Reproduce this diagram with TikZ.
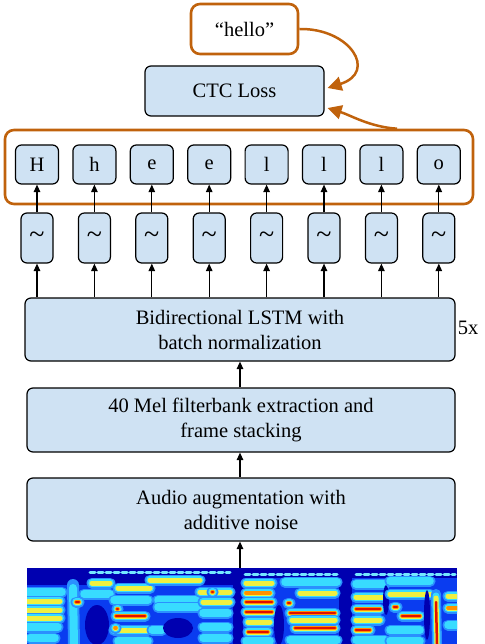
\documentclass[tikz,border=0pt]{standalone}
\usepackage{fontspec}
\setmainfont{Liberation Serif}
\usetikzlibrary{arrows.meta}
\definecolor{boxblue}{HTML}{CFE2F3}
\definecolor{orng}{HTML}{C0620C}
\definecolor{sdark}{HTML}{0000B0}
\definecolor{smid}{HTML}{0A3CF0}
\definecolor{slight}{HTML}{2A90FF}
\definecolor{scyan}{HTML}{38DCFF}
\definecolor{syel}{HTML}{F0F040}
\definecolor{sorg}{HTML}{FF9000}
\definecolor{sred}{HTML}{E01000}
\newcommand\specband[4]{%
  \draw[line width=11pt, slight] (#1,#3)--(#2,#3);
  \draw[line width=7.5pt, scyan] (#1,#3)--(#2,#3);
  \ifnum#4>1 \draw[line width=5pt, syel] (#1,#3)--(#2,#3);\fi
  \ifnum#4>2 \draw[line width=3.6pt, sorg] (#1,#3)--(#2,#3);\fi
  \ifnum#4>3 \draw[line width=2.2pt, sred] (#1,#3)--(#2,#3);\fi}
\begin{document}
\begin{tikzpicture}[x=1pt,y=-1pt,
  blk/.style={draw=black, line width=1.2pt, fill=boxblue, rounded corners=6pt,
    inner sep=0pt, align=center, font=\fontsize{20.5}{25}\selectfont},
  obox/.style={draw=orng, line width=2.6pt, rounded corners=9pt, inner sep=0pt},
  arr/.style={line width=1.2pt, -{Triangle[width=6.5pt,length=7.5pt]}},
  oarr/.style={draw=orng, line width=2.5pt, -{Triangle[width=14pt,length=14pt]}}]
\useasboundingbox (0,0) rectangle (484,644);

% top boxes
\node[obox, fill=white, minimum width=107pt, minimum height=50pt,
  font=\fontsize{20.5}{25}\selectfont] (hello) at (244.5,29) {“hello”};
\node[blk, minimum width=179pt, minimum height=50pt] (ctc) at (234.5,91) {CTC Loss};

% group of characters
\node[obox, minimum width=468pt, minimum height=74pt] (grp) at (239,167) {};

\foreach \c [count=\i from 0] in {H,h,e,e,l,l,l,o}{
  \pgfmathsetmacro\xx{37+57.4*\i}
  \node[blk, minimum width=43pt, minimum height=39pt] (c\i) at (\xx,164.5) {\c};
  \node[blk, minimum width=32pt, minimum height=50pt, font=\fontsize{28}{28}\selectfont] (t\i) at (\xx,238) {\raisebox{-2pt}{\char"7E}};
}

\node[blk, minimum width=430pt, minimum height=63pt] (lstm) at (240,329.5)
  {Bidirectional LSTM with\\batch normalization};
\node[font=\fontsize{20.5}{25}\selectfont, inner sep=0pt] (five) at (468,328) {5x};
\node[blk, minimum width=428pt, minimum height=64pt] (mel) at (241,420)
  {40 Mel filterbank extraction and\\frame stacking};
\node[blk, minimum width=428pt, minimum height=63pt] (aug) at (241,509.5)
  {Audio augmentation with\\additive noise};
\node[minimum width=430pt, minimum height=76pt, inner sep=0pt] (spec) at (242,606) {};

% arrows
\foreach \i in {0,...,7}{
  \draw[arr] (t\i.north) -- (c\i.south);
  \draw[arr] (t\i.south |- lstm.north) -- (t\i.south);
}
\draw[arr] (mel.north -| 240,0) -- (lstm.south -| 240,0);
\draw[arr] (aug.north -| 240,0) -- (mel.south -| 240,0);
\draw[arr] (spec.north -| 240,0) -- (aug.south -| 240,0);

\draw[oarr] (hello.east) .. controls (350,28) and (378,72) .. ([xshift=3pt,yshift=3pt]ctc.east);
\draw[oarr] ([xshift=158pt]grp.north) .. controls (370,127) and (350,115) .. ([xshift=3pt,yshift=-17pt]ctc.east);

% spectrogram
\begin{scope}[line cap=round]
\clip (27,568) rectangle (457,644);
\fill[sdark] (27,568) rectangle (457,644);
\fill[smid] (27,585) rectangle (233,644);
\fill[smid] (243,578) rectangle (339,644);
\fill[smid] (352,578) rectangle (457,644);
\draw[line width=3pt, scyan!70!white, dash pattern=on 5pt off 3pt] (90,572)--(230,572);
\draw[line width=3pt, scyan!70!white, dash pattern=on 5pt off 3pt] (245,574)--(337,574);
\draw[line width=3pt, scyan!70!white, dash pattern=on 5pt off 3pt] (356,574)--(455,574);
% segment A (x 27-63)
\specband{27}{62}{592}{1}
\specband{27}{60}{601}{2}
\specband{27}{60}{610}{2}
\specband{27}{60}{618}{2}
\specband{27}{58}{627}{1}
\specband{30}{55}{638}{1}
% segment B (x 63-113)
\draw[line width=12pt, slight] (73,585)--(74,644);
\draw[line width=8pt, scyan] (73,588)--(74,644);
\specband{76}{79}{602}{4}
\specband{92}{110}{583}{2}
\specband{84}{110}{594}{1}
\fill[sdark] (97,625) ellipse [x radius=12pt, y radius=20pt];
% segment D (x 113-148)
\specband{118}{150}{588}{2}
\specband{114}{148}{600}{1}
\specband{117}{118}{609}{4}
\specband{116}{145}{616}{4}
\specband{114}{148}{630}{2}
\specband{115}{116}{628}{3}
\specband{118}{148}{641}{1}
% segment E (x 148-200)
\specband{150}{200}{580}{2}
\specband{158}{198}{600}{1}
\specband{158}{198}{607}{1}
\specband{152}{162}{630}{1}
\fill[sdark] (178,628) ellipse [x radius=15pt, y radius=10pt];
% segment F (x 200-232)
\specband{200}{230}{592}{2}
\specband{212}{213}{592}{4}
\specband{203}{230}{602}{2}
\specband{203}{228}{613}{1}
\specband{203}{228}{627}{1}
\specband{203}{228}{638}{1}
% segment H (x 243-273)
\specband{246}{272}{583}{2}
\specband{246}{270}{593}{3}
\specband{246}{272}{602}{4}
\specband{246}{272}{612}{4}
\specband{248}{270}{622}{2}
\specband{248}{268}{632}{4}
\specband{246}{270}{641}{1}
\fill[sdark] (279,625) ellipse [x radius=5pt, y radius=20pt];
% segment J (x 284-339)
\specband{285}{337}{582}{1}
\specband{300}{335}{593}{2}
\specband{288}{290}{603}{4}
\specband{290}{335}{613}{4}
\specband{295}{335}{628}{4}
\specband{292}{335}{620}{2}
\specband{290}{337}{640}{1}
% segment L (x 352-385)
\specband{356}{385}{584}{1}
\specband{356}{384}{597}{2}
\specband{356}{380}{609}{4}
\specband{356}{380}{620}{2}
\specband{356}{370}{630}{4}
\specband{356}{385}{640}{1}
\fill[sdark] (386,600) ellipse [x radius=3pt, y radius=15pt];
% segment M (x 390-430)
\specband{390}{430}{581}{1}
\specband{390}{430}{594}{2}
\specband{394}{397}{607}{4}
\specband{402}{420}{616}{4}
\specband{390}{420}{630}{1}
\specband{390}{420}{641}{1}
\fill[sdark] (427,615) ellipse [x radius=3pt, y radius=25pt];
% segment N, O
\draw[line width=10pt, slight] (436,594)--(437,644);
\draw[line width=7pt, scyan] (436,596)--(437,644);
\draw[line width=5pt, syel] (436,598)--(437,644);
\draw[line width=2.5pt, sred] (436,602)--(437,644);
\specband{448}{457}{596}{2}
\specband{448}{457}{608}{3}
\specband{448}{457}{625}{1}
\end{scope}
\end{tikzpicture}
\end{document}
